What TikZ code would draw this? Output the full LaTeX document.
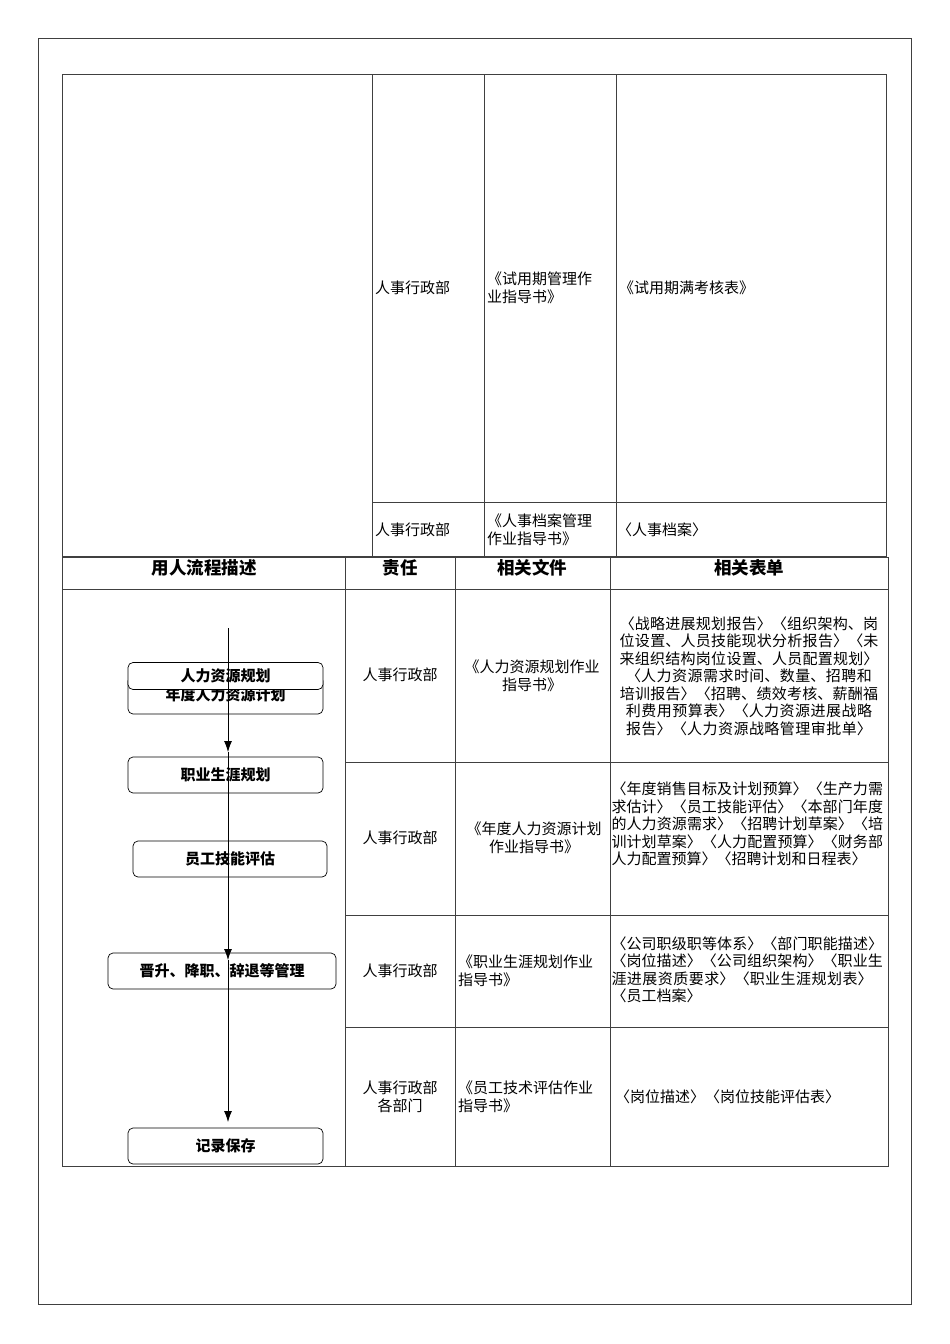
\documentclass[tikz,border=0pt]{standalone}
\usepackage{fontspec}
\usetikzlibrary{arrows.meta}
\setmainfont{Noto Sans CJK SC}
\XeTeXlinebreaklocale "zh"
\XeTeXlinebreakskip=0pt plus 1pt
\begin{document}
\begin{tikzpicture}[x=1pt,y=-1pt,
  ln/.style={draw=black!75,line width=0.7pt},
  fbox/.style={draw,rounded corners=5pt,fill=white,line width=0.7pt,minimum height=27pt,inner sep=1pt,font=\fontsize{15}{16}\selectfont\bfseries},
  txt/.style={font=\fontsize{15}{17.5}\selectfont,align=left,inner sep=1pt},
  hd/.style={font=\fontsize{17.5}{19}\selectfont\bfseries},
  arr/.style={-{Latex[length=11pt,width=8pt]},line width=0.8pt}]
\useasboundingbox (0,0) rectangle (950,1344);
\fill[white] (0,0) rectangle (950,1344);
\draw[ln] (38,38) rectangle (911,1304);
% upper table
\draw[ln] (62,74) rectangle (886,556);
\draw[ln] (372,74)--(372,556) (484,74)--(484,556) (616,74)--(616,556) (372,502)--(886,502);
\node[txt,anchor=west] (u1) at (374,288) {人事行政部};
\node[txt,anchor=west] (u2) at (486,288) {《试用期管理作\\业指导书》};
\node[txt,anchor=west] (u3) at (618,288) {《试用期满考核表》};
\node[txt,anchor=west] (u4) at (374,530) {人事行政部};
\node[txt,anchor=west] (u5) at (486,530) {《人事档案管理\\作业指导书》};
\node[txt,anchor=west] (u6) at (616,530) {〈人事档案〉};
% lower table
\draw[ln] (62,557) rectangle (888,1166);
\foreach \x in {345,455,610} \draw[ln] (\x,557)--(\x,1166);
\draw[ln] (62,589)--(888,589);
\foreach \y in {762,915,1027} \draw[ln] (345,\y)--(888,\y);
\node[hd] (h1) at (204,568) {用人流程描述};
\node[hd] (h2) at (400,568) {责任};
\node[hd] (h3) at (532,568) {相关文件};
\node[hd] (h4) at (749,568) {相关表单};
\node[txt] (r1a) at (400,675) {人事行政部};
\node[txt,align=center] (r1b) at (532,676) {《人力资源规划作业\\指导书》};
\node[txt,align=center,text width=275pt] (r1c) at (749,676) {〈战略进展规划报告〉〈组织架构、岗位设置、人员技能现状分析报告〉〈未来组织结构岗位设置、人员配置规划〉〈人力资源需求时间、数量、招聘和培训报告〉〈招聘、绩效考核、薪酬福利费用预算表〉〈人力资源进展战略报告〉〈人力资源战略管理审批单〉};
\node[txt] (r2a) at (400,838) {人事行政部};
\node[txt,align=center] (r2b) at (534,838) {《年度人力资源计划\\作业指导书》};
\node[txt,align=left,text width=275pt] (r2c) at (749,824) {〈年度销售目标及计划预算〉〈生产力需求估计〉〈员工技能评估〉〈本部门年度的人力资源需求〉〈招聘计划草案〉〈培训计划草案〉〈人力配置预算〉〈财务部人力配置预算〉〈招聘计划和日程表〉};
\node[txt] (r3a) at (400,971) {人事行政部};
\node[txt,anchor=west] (r3b) at (457,971) {《职业生涯规划作业\\指导书》};
\node[txt,align=left,text width=275pt] (r3c) at (749,970) {〈公司职级职等体系〉〈部门职能描述〉〈岗位描述〉〈公司组织架构〉〈职业生涯进展资质要求〉〈职业生涯规划表〉〈员工档案〉};
\node[txt,align=center] (r4a) at (400,1097) {人事行政部\\各部门};
\node[txt,anchor=west] (r4b) at (457,1097) {《员工技术评估作业\\指导书》};
\node[txt,anchor=west] (r4c) at (614,1097) {〈岗位描述〉〈岗位技能评估表〉};
% flow
\node[fbox,minimum width=195pt,minimum height=38pt] (b0) at (225.5,695) {年度人力资源计划};
\node[fbox,minimum width=195pt,minimum height=27pt] (b1) at (225.5,676) {人力资源规划};
\node[fbox,minimum width=195pt,minimum height=36pt] (b2) at (225.5,775) {职业生涯规划};
\node[fbox,minimum width=194pt,minimum height=36pt] (b3) at (230,859) {员工技能评估};
\node[fbox,minimum width=228pt,minimum height=36pt] (b4) at (222,971) {晋升、降职、辞退等管理};
\node[fbox,minimum width=195pt,minimum height=36pt] (b5) at (225.5,1146) {记录保存};
\coordinate (s) at (228,628);
\draw[arr] (s)--(228,752);
\draw[line width=0.8pt] (228,752)--(228,843);
\draw[arr] (228,843)--(228,960);
\draw[arr] (228,960)--(228,1122);
\end{tikzpicture}
\end{document}
